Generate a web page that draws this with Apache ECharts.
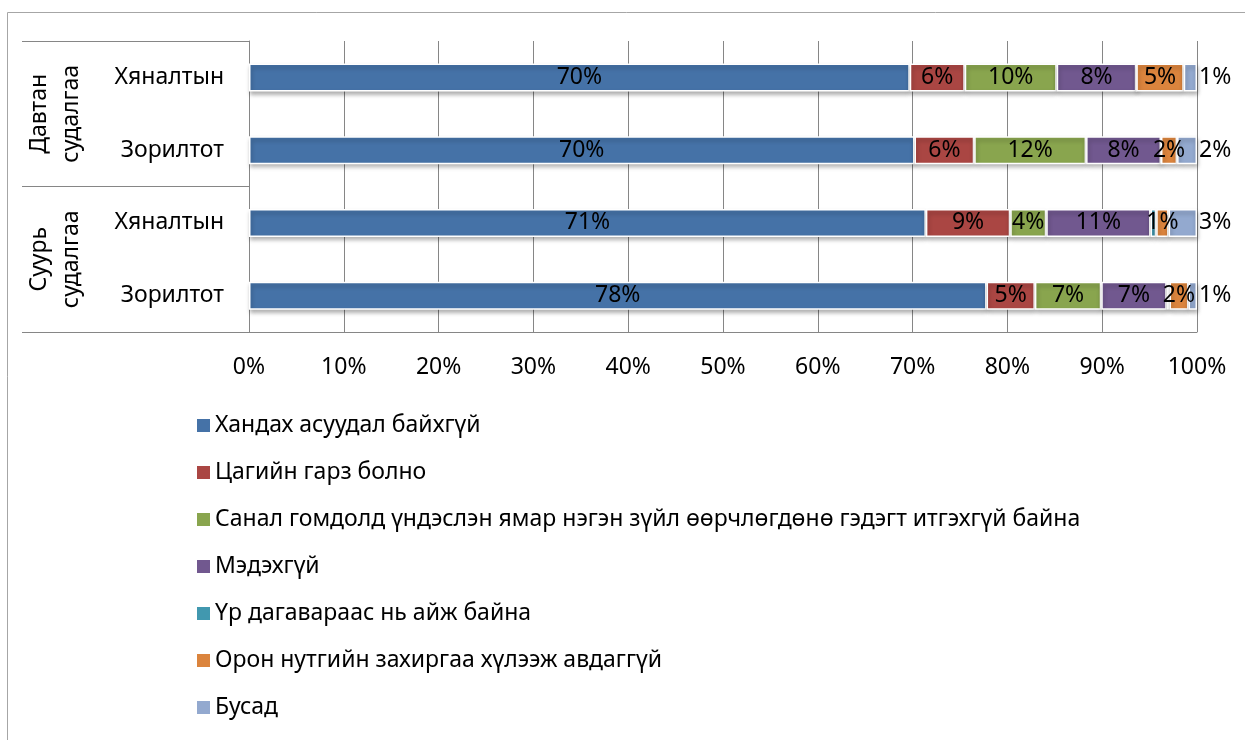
<!DOCTYPE html>
<html>
<head>
<meta charset="utf-8">
<script src="https://cdn.jsdelivr.net/npm/echarts@6/dist/echarts.min.js"></script>
<style>
  html, body { margin: 0; padding: 0; background: #fff; }
  #chart { width: 1245px; height: 740px; }
</style>
</head>
<body>
<div id="chart"></div>
<script>
// rows, top to bottom
var groups = ['Давтан\nсудалгаа', 'Суурь\nсудалгаа'];
var categories = ['Хяналтын', 'Зорилтот', 'Хяналтын', 'Зорилтот'];
var xTicks = [0, 10, 20, 30, 40, 50, 60, 70, 80, 90, 100];

var seriesNames = [
  'Хандах асуудал байхгүй',
  'Цагийн гарз болно',
  'Санал гомдолд үндэслэн ямар нэгэн зүйл өөрчлөгдөнө гэдэгт итгэхгүй байна',
  'Мэдэхгүй',
  'Үр дагавараас нь айж байна',
  'Орон нутгийн захиргаа хүлээж авдаггүй',
  'Бусад'
];
var noIssue   = [69.7, 70.2, 71.4, 77.8];
var timeLoss  = [5.8, 6.3, 8.9, 5.1];
var noTrust   = [9.7, 11.8, 3.8, 7.0];
var dontKnow  = [8.4, 7.9, 11.0, 6.9];
var fear      = [0, 0, 0.6, 0.3];
var notAccept = [5.0, 1.7, 1.3, 2.0];
var other     = [1.4, 2.1, 3.0, 0.9];

var colors = ['#4572A7', '#AA4643', '#89A54E', '#71588F', '#4198AF', '#DB843D', '#93A9CF'];
var values = [noIssue, timeLoss, noTrust, dontKnow, fear, notAccept, other];
var font = 'Noto Sans';
var fs = 23;

var chart = echarts.init(document.getElementById('chart'));

var series = values.map(function (v, i) {
  return {
    name: seriesNames[i],
    type: 'bar',
    stack: 'all',
    barWidth: 28,
    data: v,
    itemStyle: {
      color: colors[i],
      borderColor: '#fff',
      borderWidth: 1.5,
      shadowColor: 'rgba(0,0,0,0.3)',
      shadowBlur: 4,
      shadowOffsetX: 1,
      shadowOffsetY: 3
    },
    labelLayout: { hideOverlap: true },
    label: {
      show: true,
      position: i === 6 ? 'right' : 'inside',
      distance: 2,
      color: '#000',
      fontFamily: font,
      fontSize: fs,
      formatter: function (p) {
        var r = Math.round(p.value);
        return r > 0 ? r + '%' : '';
      }
    }
  };
});

var option = {
  color: colors,
  animation: false,
  textStyle: { fontFamily: font },
  graphic: [{
    type: 'polyline',
    silent: true,
    shape: { points: [[7.5, 740], [7.5, 12.5], [1245, 12.5]] },
    style: { stroke: '#a6a6a6', lineWidth: 1, fill: null }
  }],
  grid: {
    left: 249,
    right: 48,
    top: 41,
    bottom: 408
  },
  legend: {
    orient: 'vertical',
    left: 192,
    top: 409,
    itemGap: 24,
    itemWidth: 13,
    itemHeight: 13,
    icon: 'rect',
    itemStyle: { borderWidth: 0, shadowBlur: 0, shadowOffsetX: 0, shadowOffsetY: 0 },
    textStyle: { fontFamily: font, fontSize: fs, color: '#000', lineHeight: 23 },
    data: seriesNames
  },
  xAxis: {
    type: 'value',
    min: xTicks[0],
    max: xTicks[xTicks.length - 1],
    interval: 10,
    axisLine: { show: true, lineStyle: { color: '#868686' } },
    axisTick: { show: false },
    splitLine: { show: true, lineStyle: { color: '#868686', width: 1 } },
    axisLabel: {
      color: '#000',
      fontFamily: font,
      fontSize: fs,
      margin: 24,
      formatter: '{value}%'
    }
  },
  yAxis: [
    {
      type: 'category',
      inverse: true,
      data: categories,
      axisLine: { show: true, lineStyle: { color: '#868686' } },
      axisTick: { show: false },
      axisLabel: { color: '#000', fontFamily: font, fontSize: fs, margin: 25 }
    },
    {
      type: 'category',
      inverse: true,
      position: 'left',
      data: groups,
      axisLine: { show: false },
      axisTick: { show: true, length: 227, lineStyle: { color: '#868686' } },
      axisLabel: {
        rotate: 90,
        color: '#000',
        fontFamily: font,
        fontSize: fs,
        lineHeight: 32,
        margin: 162,
        align: 'center'
      }
    }
  ],
  series: series
};

chart.setOption(option);
</script>
</body>
</html>
